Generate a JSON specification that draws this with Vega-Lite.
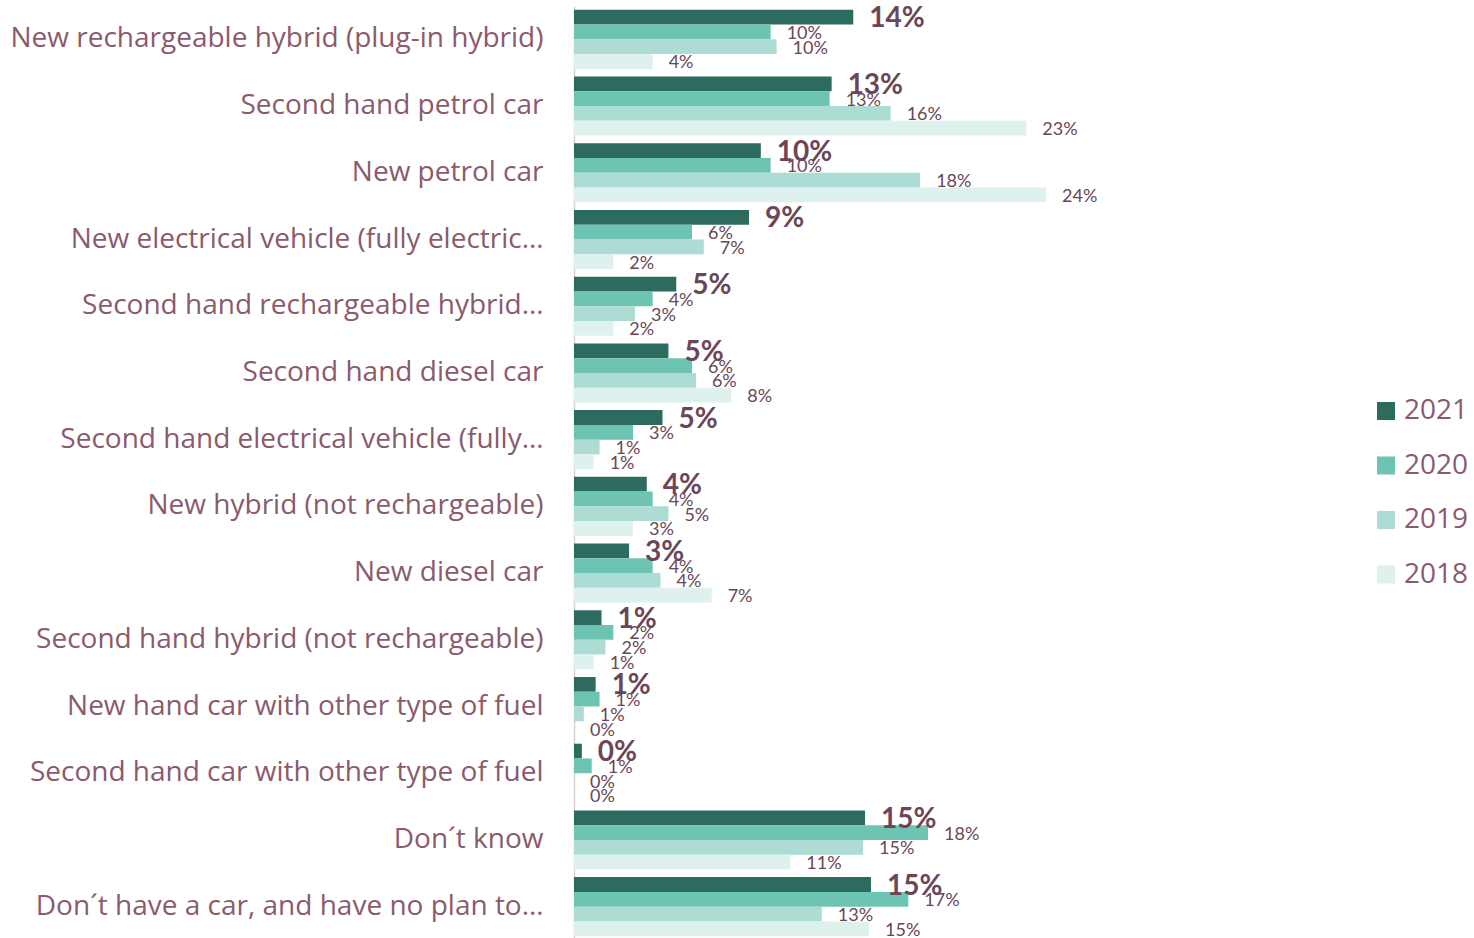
{
  "$schema": "https://vega.github.io/schema/vega-lite/v6.json",
  "width": 590,
  "height": 934,
  "autosize": {"type": "none"},
  "padding": {"left": 574, "top": 6, "right": 310, "bottom": 0},
  "background": "white",
  "config": {"view": {"stroke": null}, "font": "Lato"},
  "data": {"values": [
    {"cat": "New rechargeable hybrid (plug-in hybrid)", "year": "2021", "value": 14.2, "label": "14%"},
    {"cat": "New rechargeable hybrid (plug-in hybrid)", "year": "2020", "value": 10.0, "label": "10%"},
    {"cat": "New rechargeable hybrid (plug-in hybrid)", "year": "2019", "value": 10.3, "label": "10%"},
    {"cat": "New rechargeable hybrid (plug-in hybrid)", "year": "2018", "value": 4.0, "label": "4%"},
    {"cat": "Second hand petrol car", "year": "2021", "value": 13.1, "label": "13%"},
    {"cat": "Second hand petrol car", "year": "2020", "value": 13.0, "label": "13%"},
    {"cat": "Second hand petrol car", "year": "2019", "value": 16.1, "label": "16%"},
    {"cat": "Second hand petrol car", "year": "2018", "value": 23.0, "label": "23%"},
    {"cat": "New petrol car", "year": "2021", "value": 9.5, "label": "10%"},
    {"cat": "New petrol car", "year": "2020", "value": 10.0, "label": "10%"},
    {"cat": "New petrol car", "year": "2019", "value": 17.6, "label": "18%"},
    {"cat": "New petrol car", "year": "2018", "value": 24.0, "label": "24%"},
    {"cat": "New electrical vehicle (fully electric…", "year": "2021", "value": 8.9, "label": "9%"},
    {"cat": "New electrical vehicle (fully electric…", "year": "2020", "value": 6.0, "label": "6%"},
    {"cat": "New electrical vehicle (fully electric…", "year": "2019", "value": 6.6, "label": "7%"},
    {"cat": "New electrical vehicle (fully electric…", "year": "2018", "value": 2.0, "label": "2%"},
    {"cat": "Second hand rechargeable hybrid…", "year": "2021", "value": 5.2, "label": "5%"},
    {"cat": "Second hand rechargeable hybrid…", "year": "2020", "value": 4.0, "label": "4%"},
    {"cat": "Second hand rechargeable hybrid…", "year": "2019", "value": 3.1, "label": "3%"},
    {"cat": "Second hand rechargeable hybrid…", "year": "2018", "value": 2.0, "label": "2%"},
    {"cat": "Second hand diesel car", "year": "2021", "value": 4.8, "label": "5%"},
    {"cat": "Second hand diesel car", "year": "2020", "value": 6.0, "label": "6%"},
    {"cat": "Second hand diesel car", "year": "2019", "value": 6.2, "label": "6%"},
    {"cat": "Second hand diesel car", "year": "2018", "value": 8.0, "label": "8%"},
    {"cat": "Second hand electrical vehicle (fully…", "year": "2021", "value": 4.5, "label": "5%"},
    {"cat": "Second hand electrical vehicle (fully…", "year": "2020", "value": 3.0, "label": "3%"},
    {"cat": "Second hand electrical vehicle (fully…", "year": "2019", "value": 1.3, "label": "1%"},
    {"cat": "Second hand electrical vehicle (fully…", "year": "2018", "value": 1.0, "label": "1%"},
    {"cat": "New hybrid (not rechargeable)", "year": "2021", "value": 3.7, "label": "4%"},
    {"cat": "New hybrid (not rechargeable)", "year": "2020", "value": 4.0, "label": "4%"},
    {"cat": "New hybrid (not rechargeable)", "year": "2019", "value": 4.8, "label": "5%"},
    {"cat": "New hybrid (not rechargeable)", "year": "2018", "value": 3.0, "label": "3%"},
    {"cat": "New diesel car", "year": "2021", "value": 2.8, "label": "3%"},
    {"cat": "New diesel car", "year": "2020", "value": 4.0, "label": "4%"},
    {"cat": "New diesel car", "year": "2019", "value": 4.4, "label": "4%"},
    {"cat": "New diesel car", "year": "2018", "value": 7.0, "label": "7%"},
    {"cat": "Second hand hybrid (not rechargeable)", "year": "2021", "value": 1.4, "label": "1%"},
    {"cat": "Second hand hybrid (not rechargeable)", "year": "2020", "value": 2.0, "label": "2%"},
    {"cat": "Second hand hybrid (not rechargeable)", "year": "2019", "value": 1.6, "label": "2%"},
    {"cat": "Second hand hybrid (not rechargeable)", "year": "2018", "value": 1.0, "label": "1%"},
    {"cat": "New hand car with other type of fuel", "year": "2021", "value": 1.1, "label": "1%"},
    {"cat": "New hand car with other type of fuel", "year": "2020", "value": 1.3, "label": "1%"},
    {"cat": "New hand car with other type of fuel", "year": "2019", "value": 0.5, "label": "1%"},
    {"cat": "New hand car with other type of fuel", "year": "2018", "value": 0.0, "label": "0%"},
    {"cat": "Second hand car with other type of fuel", "year": "2021", "value": 0.4, "label": "0%"},
    {"cat": "Second hand car with other type of fuel", "year": "2020", "value": 0.9, "label": "1%"},
    {"cat": "Second hand car with other type of fuel", "year": "2019", "value": 0.0, "label": "0%"},
    {"cat": "Second hand car with other type of fuel", "year": "2018", "value": 0.0, "label": "0%"},
    {"cat": "Don´t know", "year": "2021", "value": 14.8, "label": "15%"},
    {"cat": "Don´t know", "year": "2020", "value": 18.0, "label": "18%"},
    {"cat": "Don´t know", "year": "2019", "value": 14.7, "label": "15%"},
    {"cat": "Don´t know", "year": "2018", "value": 11.0, "label": "11%"},
    {"cat": "Don´t have a car, and have no plan to…", "year": "2021", "value": 15.1, "label": "15%"},
    {"cat": "Don´t have a car, and have no plan to…", "year": "2020", "value": 17.0, "label": "17%"},
    {"cat": "Don´t have a car, and have no plan to…", "year": "2019", "value": 12.6, "label": "13%"},
    {"cat": "Don´t have a car, and have no plan to…", "year": "2018", "value": 15.0, "label": "15%"}
  ]},
  "encoding": {
    "y": {
      "field": "cat", "type": "nominal", "sort": null,
      "scale": {"paddingInner": 0.115, "paddingOuter": 0.0575},
      "axis": {"title": null, "ticks": false, "domainColor": "#d9d0d4", "domainWidth": 1.5,
               "labelFont": "Open Sans", "labelFontSize": 28, "labelColor": "#8b5a6c",
               "labelPadding": 31, "labelLimit": 600}
    },
    "yOffset": {"field": "year", "type": "nominal", "scale": {"domain": ["2021", "2020", "2019", "2018"]}}
  },
  "layer": [
    {
      "mark": {"type": "bar"},
      "encoding": {
        "x": {"field": "value", "type": "quantitative", "scale": {"domain": [0, 30]}, "axis": null},
        "color": {
          "field": "year", "type": "nominal",
          "scale": {"domain": ["2021", "2020", "2019", "2018"], "range": ["#2d6b5f", "#6ec4b2", "#acdcd3", "#dff1ee"]},
          "legend": {"title": null, "orient": "none", "legendX": 798, "legendY": 391, "padding": 0,
                     "symbolType": "square", "symbolSize": 324, "symbolStrokeWidth": 0,
                     "labelFont": "Open Sans", "labelFontSize": 28, "labelColor": "#8b5a6c",
                     "rowPadding": 26.5, "labelOffset": 4}
        }
      }
    },
    {
      "transform": [{"filter": "datum.year == '2021'"}],
      "mark": {"type": "text", "align": "left", "baseline": "middle", "dx": 16, "dy": 2, "font": "Lato", "fontSize": 28, "fontWeight": "bold", "color": "#6b4656"},
      "encoding": {"x": {"field": "value", "type": "quantitative"}, "text": {"field": "label"}}
    },
    {
      "transform": [{"filter": "datum.year != '2021'"}],
      "mark": {"type": "text", "align": "left", "baseline": "middle", "dx": 16, "dy": 2, "font": "Lato", "fontSize": 18, "color": "#6b4656"},
      "encoding": {"x": {"field": "value", "type": "quantitative"}, "text": {"field": "label"}}
    }
  ]
}
